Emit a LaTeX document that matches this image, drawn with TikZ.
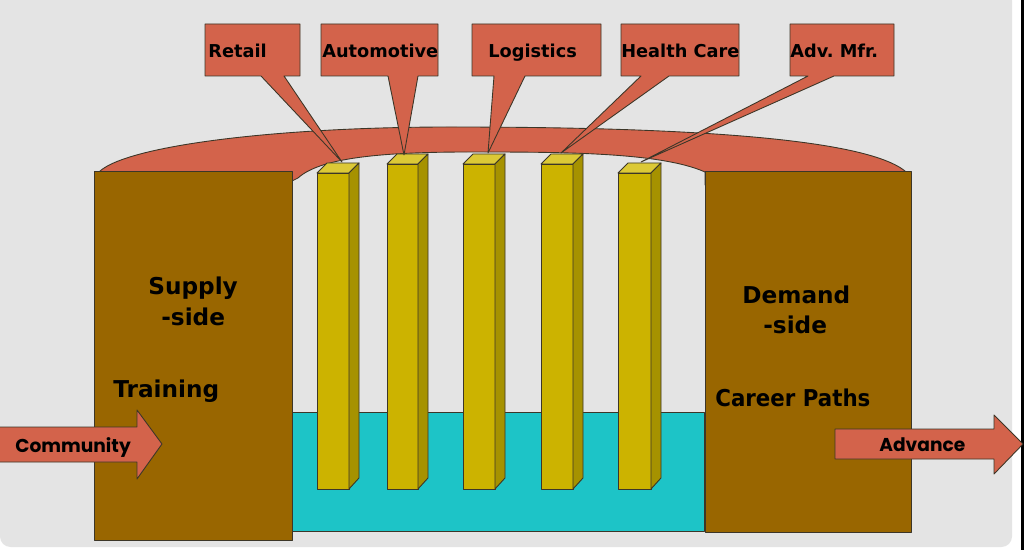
\documentclass[tikz,border=0pt]{standalone}
\usepackage{fontspec}
\setmainfont{DejaVu Sans}
\newfontfamily\popfont{Poppins}
\newfontfamily\narrowfont{DejaVu Sans}[FakeStretch=0.92]
\definecolor{bggray}{HTML}{E4E4E4}
\definecolor{coral}{HTML}{D3634B}
\definecolor{brownbox}{HTML}{996600}
\definecolor{cyanpool}{HTML}{1DC4C7}
\definecolor{barfront}{HTML}{CCB300}
\definecolor{bartop}{HTML}{DCC936}
\definecolor{barside}{HTML}{A69200}
\definecolor{edge}{HTML}{3C3628}
\tikzset{
  outl/.style={draw=edge, line width=0.5pt, line join=round},
  calltext/.style={font=\bfseries\fontsize{10.1}{12}\selectfont, anchor=base west, inner sep=0pt},
  bigtext/.style={font=\bfseries\fontsize{13.2}{15}\selectfont, anchor=base west, inner sep=0pt},
  arrowtext/.style={font=\popfont\bfseries\fontsize{10.6}{13}\selectfont, anchor=base west, inner sep=0pt},
}
\newcommand{\mybar}[4]{% name, x1, x2, ytop
  \fill[barfront, outl] (#2,#4) rectangle (#3,489);
  \fill[bartop, outl] (#2,#4) -- (#2+10,#4-10) -- (#3+10,#4-10) -- (#3,#4) -- cycle;
  \fill[barside, outl] (#3,#4) -- (#3+10,#4-10) -- (#3+10,478) -- (#3,489) -- cycle;
  \coordinate (#1) at ({(#2+#3)/2+5},#4-9);
}
\newcommand{\mycallout}[6]{% name, x1, x2, base1, base2, tip coord
  \fill[coral, outl] (#2,24) -- (#3,24) -- (#3,76) -- (#5,76) -- (#6) -- (#4,76) -- (#2,76) -- cycle;
}
\begin{document}
\begin{tikzpicture}[x=0.02cm, y=-0.02cm]
\useasboundingbox (0,0) rectangle (1024,550);
\fill[white] (0,0) rectangle (1024,550);
\fill[bggray, rounded corners=6] (0,-10) rectangle (1012,547);
\draw[black, line width=2pt] (1023,0) -- (1023,550);
% arch
\fill[coral, outl] (100,171) .. controls (130,145) and (280,127) .. (450,127)
  .. controls (650,127) and (860,135) .. (905,171) -- (905,185) -- (705,185) -- (705,172)
  .. controls (660,152) and (560,152) .. (470,152)
  .. controls (380,152) and (320,158) .. (298,178) -- (292,181) -- (100,185) -- cycle;
% pool
\fill[cyanpool, outl] (292,412) rectangle (704,531);
% side boxes
\fill[brownbox, outl] (94,171) rectangle (292,540);
\fill[brownbox, outl] (705,171) rectangle (911,532);
% bars
\mybar{b1}{317}{349}{173}
\mybar{b2}{387}{418}{164}
\mybar{b3}{463}{495}{164}
\mybar{b4}{541}{573}{164}
\mybar{b5}{618}{651}{173}
\coordinate (t1) at (342,162);
\coordinate (t2) at (404,155);
\coordinate (t3) at (488,153);
\coordinate (t4) at (561,153);
\coordinate (t5) at (641,162);
% callouts
\mycallout{c1}{205}{300}{261}{284}{t1}
\mycallout{c2}{321}{438}{388}{418}{t2}
\mycallout{c3}{472}{601}{494}{525}{t3}
\mycallout{c4}{621}{739}{641}{669}{t4}
\mycallout{c5}{790}{894}{808}{834}{t5}
\node[calltext] (retail) at (208,58) {Retail};
\node[calltext] (auto) at (322,58) {Automotive};
\node[calltext] (logi) at (488,58) {Logistics};
\node[calltext] (health) at (621,58) {Health Care};
\node[calltext] (adv) at (790,58) {Adv.\ Mfr.};
% arrows
\fill[coral, outl] (-2,427) -- (137,427) -- (137,410) -- (162,444) -- (137,479) -- (137,462) -- (-2,462) -- cycle;
\fill[coral, outl] (835,429) -- (994,429) -- (994,415) -- (1023,444) -- (994,474) -- (994,459) -- (835,459) -- cycle;
\node[arrowtext] (community) at (15,452) {Community};
\node[arrowtext] (advance) at (879,451) {Advance};
% box texts
\node[bigtext] (supply) at (148,295) {Supply};
\node[bigtext] (supplyside) at (161,326) {-side};
\node[bigtext] (training) at (113,398) {Training};
\node[bigtext] (demand) at (742,304) {Demand};
\node[bigtext] (demandside) at (763,334) {-side};
\node[bigtext, font=\narrowfont\bfseries\fontsize{13.2}{15}\selectfont] (career) at (715,406) {Career Paths};
\end{tikzpicture}
\end{document}
